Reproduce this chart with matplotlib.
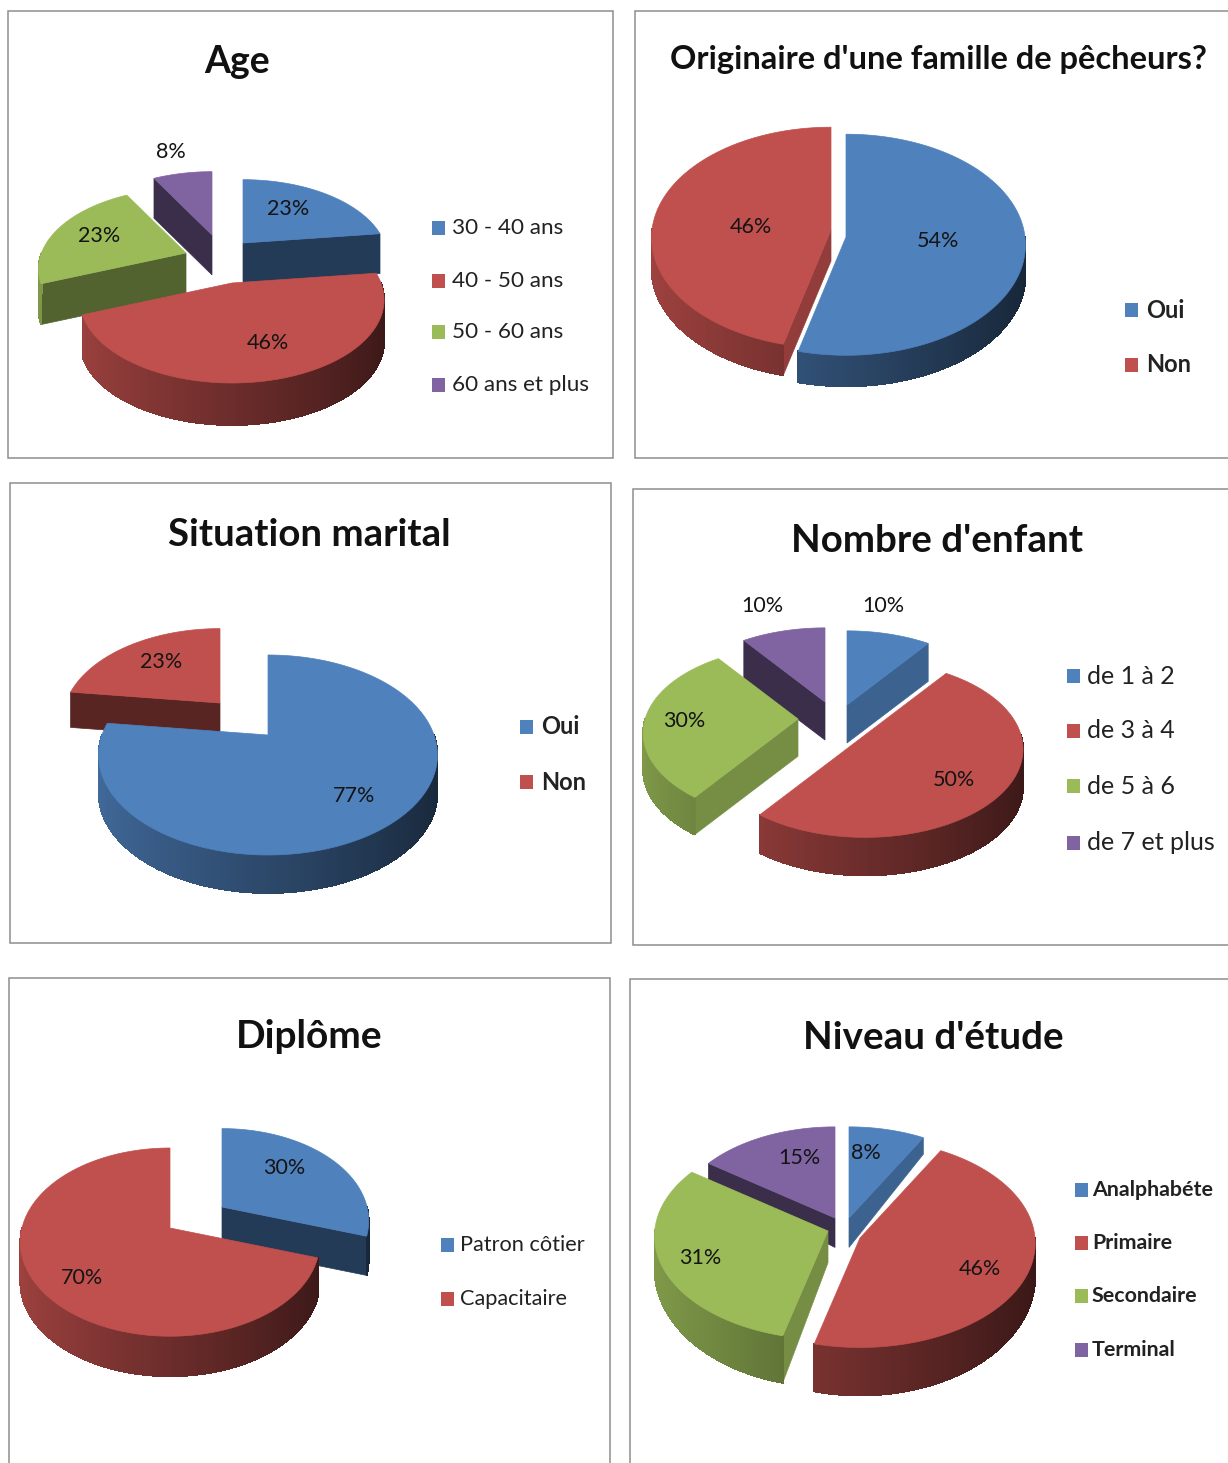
import numpy as np
import matplotlib
matplotlib.use("Agg")
import matplotlib.pyplot as plt
from matplotlib.collections import PolyCollection
from matplotlib.patches import Rectangle

plt.rcParams['font.family'] = ['Lato', 'DejaVu Sans']

BLUE, RED, GREEN, PURPLE = "#4f81bd", "#c0504d", "#9bbb59", "#8064a2"
COLORS = [BLUE, RED, GREEN, PURPLE]

age_labels = ["30 - 40 ans", "40 - 50 ans", "50 - 60 ans", "60 ans et plus"]
age_values = [23, 46, 23, 8]
famille_labels = ["Oui", "Non"]
famille_values = [54, 46]
marital_labels = ["Oui", "Non"]
marital_values = [77, 23]
enfant_labels = ["de 1 à 2", "de 3 à 4", "de 5 à 6", "de 7 et plus"]
enfant_values = [10, 50, 30, 10]
diplome_labels = ["Patron côtier", "Capacitaire"]
diplome_values = [30, 70]
etude_labels = ["Analphabéte", "Primaire", "Secondaire", "Terminal"]
etude_values = [8, 46, 31, 15]

# layout only: frame, pie geometry, slice offsets (dx, dy, scale), text places
panels = [
    dict(title="Age", values=age_values, labels=age_labels, frame=(8, 11, 605, 447),
         tpos=(237, 62), tsize=27, c=(232, 283), rx=149, ry=80, p=0.2, depth=42, q=0.0,
         off=[(11, -40, .95), (0, 0, 1), (-46, -30, .97), (-20, -48, .95)],
         vpos=[(288, 208), (268, 342), (99, 235), (171, 151)],
         lx=432, ly=[228, 281, 332, 385], tx=452, lsize=16.2, lbold=False),
    dict(title="Originaire d'une famille de pêcheurs?", values=famille_values, labels=famille_labels,
         frame=(635, 11, 620, 447), tpos=(938, 59), tsize=23.5, c=(846, 237), rx=179, ry=110, p=0.07,
         depth=31, q=0.0, off=[(0, 0, 1), (-15, -7, 1)],
         vpos=[(938, 240), (751, 226)],
         lx=1125, ly=[310, 365], tx=1146, lsize=17, lbold=True),
    dict(title="Situation marital", values=marital_values, labels=marital_labels, frame=(10, 483, 601, 460),
         tpos=(309, 535), tsize=27.6, c=(268, 735), rx=166, ry=96, p=0.2, depth=38, q=0.0,
         off=[(0, 0, 1), (-48, -32, .93)],
         vpos=[(354, 795), (161, 661)],
         lx=520, ly=[727, 782], tx=541, lsize=17, lbold=True),
    dict(title="Nombre d'enfant", values=enfant_values, labels=enfant_labels, frame=(633, 489, 620, 456),
         tpos=(937, 541), tsize=27.7, c=(865, 735), rx=156, ry=86, p=0.16, depth=38, q=0.0,
         off=[(-18, -30, 1), (0, 0, 1), (-67, -16, .98), (-40, -33, 1)],
         vpos=[(883, 605), (954, 779), (684, 720), (762, 605)],
         lx=1067, ly=[676, 731, 786, 843], tx=1087, lsize=18, lbold=False),
    dict(title="Diplôme", values=diplome_values, labels=diplome_labels, frame=(9, 978, 601, 520),
         tpos=(309, 1036), tsize=28, c=(170, 1228), rx=148, ry=92, p=0.15, depth=40, q=0.0,
         off=[(52, -21, .98), (0, 0, 1)],
         vpos=[(284, 1167), (82, 1277)],
         lx=441, ly=[1245, 1299], tx=460, lsize=15.7, lbold=False),
    dict(title="Niveau d'étude", values=etude_values, labels=etude_labels, frame=(630, 979, 620, 520),
         tpos=(933, 1038), tsize=27.7, c=(860, 1238), rx=175, ry=104, p=0.05, depth=32, q=0.5,
         off=[(-11, -20, .92), (0, 0, 1), (-32, -7, .99), (-25, -20, .92)],
         vpos=[(866, 1152), (980, 1268), (700, 1257), (799, 1157)],
         lx=1075, ly=[1190, 1243, 1296, 1350], tx=1092, lsize=15.4, lbold=True),
]


def shade(color, f):
    return tuple(np.array(matplotlib.colors.to_rgb(color)) * f)


def draw_slice(ax, pie, a, b, off, color):
    dx, dy, s = off
    cx, cy = pie["c"]

    def top(th):
        th = np.radians(th)
        w = 1 / (1 + pie["p"] * np.cos(th))
        return (cx + dx + s * pie["rx"] * np.sin(th) * w,
                cy + dy - s * pie["ry"] * np.cos(th) * w)

    def drop(th):
        return pie["depth"] * s * (1 - pie["q"] * np.cos(np.radians(th)))

    apex = (cx + dx, cy + dy)
    apex_low = (apex[0], apex[1] + pie["depth"] * s)

    # cut faces, only those turned to the viewer
    for th, sign in ((a, -1), (b, 1)):
        r = np.radians(th)
        if sign * np.sin(r) <= 0:
            continue
        nx = sign * np.cos(r)
        t = np.clip((nx - 0.3) / 0.3, 0, 1)
        x, y = top(th)
        ax.fill([apex[0], x, x, apex_low[0]], [apex[1], y, y + drop(th), apex_low[1]],
                color=shade(color, 0.46 + 0.3 * t), lw=0.5)

    # outer rim as thin strips so the shading runs along it
    ths = np.arange(a, b + 1.0, 1.0)
    ths[-1] = b
    strips, cols = [], []
    for t0, t1 in zip(ths[:-1], ths[1:]):
        if np.cos(np.radians((t0 + t1) / 2)) > 0:
            continue
        x0, y0 = top(t0)
        x1, y1 = top(t1)
        strips.append([(x0, y0), (x1, y1), (x1, y1 + drop(t1)), (x0, y0 + drop(t0))])
        f = 0.82 - 0.52 * (np.sin(np.radians((t0 + t1) / 2)) + 1) / 2
        cols.append(shade(color, f))
    if strips:
        ax.add_collection(PolyCollection(strips, facecolors=cols, edgecolors=cols,
                                         linewidths=0.6, antialiaseds=False))

    xs, ys = zip(*[top(t) for t in ths])
    ax.fill([apex[0], *xs], [apex[1], *ys], color=color, lw=0.5)


def draw_pie(ax, pie):
    values = np.array(pie["values"], dtype=float)
    edges = np.concatenate([[0], np.cumsum(values) / values.sum() * 360])
    order = []
    for i in range(len(values)):
        mid = np.radians((edges[i] + edges[i + 1]) / 2)
        order.append((pie["off"][i][1] - pie["ry"] * np.cos(mid) * 0.5, i))
    for _, i in sorted(order):
        draw_slice(ax, pie, edges[i], edges[i + 1], pie["off"][i], COLORS[i])


fig = plt.figure(figsize=(12.28, 14.63), dpi=100)
ax = fig.add_axes([0, 0, 1, 1])
ax.set_xlim(0, 1228)
ax.set_ylim(1463, 0)
ax.axis("off")

for pie in panels:
    x, y, w, h = pie["frame"]
    ax.add_patch(Rectangle((x, y), w, h, fc="white", ec="#8e8e8e", lw=1.1))
    ax.text(*pie["tpos"], pie["title"], ha="center", va="center", fontsize=pie["tsize"],
            fontweight="bold", color="#111111")
    draw_pie(ax, pie)
    for v, (tx, ty) in zip(pie["values"], pie["vpos"]):
        ax.text(tx, ty + 1, f"{v}%", ha="center", va="center", fontsize=15.5, color="#141414")
    for i, (name, ly) in enumerate(zip(pie["labels"], pie["ly"])):
        ax.add_patch(Rectangle((pie["lx"], ly - 7), 13, 14, fc=COLORS[i], ec="none"))
        ax.text(pie["tx"], ly, name, ha="left", va="center", fontsize=pie["lsize"],
                fontweight="bold" if pie["lbold"] else "normal", color="#222222")

fig.savefig("out.png", dpi=100)
